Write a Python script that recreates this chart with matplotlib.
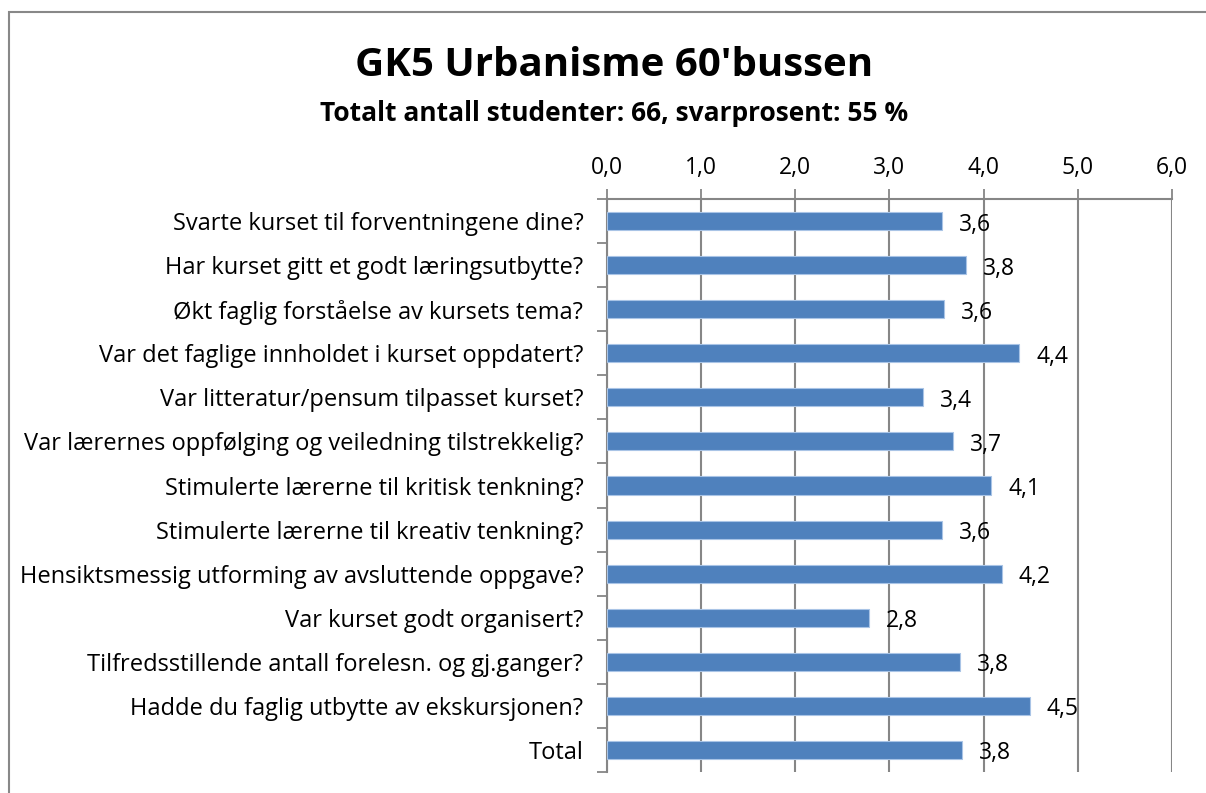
import numpy as np
import matplotlib.pyplot as plt
from matplotlib.patches import Rectangle
from matplotlib.ticker import FixedLocator

plt.rcParams['font.family'] = ['Open Sans', 'DejaVu Sans']

questions = [
    'Svarte kurset til forventningene dine?',
    'Har kurset gitt et godt læringsutbytte?',
    'Økt faglig forståelse av kursets tema?',
    'Var det faglige innholdet i kurset oppdatert?',
    'Var litteratur/pensum tilpasset kurset?',
    'Var lærernes oppfølging og veiledning tilstrekkelig?',
    'Stimulerte lærerne til kritisk tenkning?',
    'Stimulerte lærerne til kreativ tenkning?',
    'Hensiktsmessig utforming av avsluttende oppgave?',
    'Var kurset godt organisert?',
    'Tilfredsstillende antall forelesn. og gj.ganger?',
    'Hadde du faglig utbytte av ekskursjonen?',
    'Total',
]
scores = [3.56, 3.81, 3.58, 4.38, 3.36, 3.67, 4.08, 3.56, 4.19, 2.78, 3.75, 4.49, 3.77]
xticks = [0, 1, 2, 3, 4, 5, 6]

fig = plt.figure(figsize=(12.06, 7.93), dpi=100)
ax = fig.add_axes([0.5033, 0.0265, 0.4685, 0.7225])

y = np.arange(len(questions))
ax.barh(y, scores, height=0.41, color='#4f81bd', edgecolor='#a9c4e6', linewidth=0.8, zorder=3)

for yi, v in zip(y, scores):
    ax.text(v + 0.18, yi + 0.08, ('%.1f' % v).replace('.', ','), va='center', ha='left',
            fontsize=16.5, color='black', zorder=4)

ax.set_xlim(0, 6)
ax.set_ylim(len(questions) - 0.5, -0.5)
ax.xaxis.tick_top()
ax.set_xticks(xticks)
ax.set_xticklabels([('%.1f' % t).replace('.', ',') for t in xticks], fontsize=16.5)
ax.tick_params(axis='x', length=7, width=1.3, color='#868686', pad=7)
ax.grid(axis='x', color='#868686', linewidth=1.5, zorder=1)

ax.set_yticks(y)
ax.set_yticklabels(questions, fontsize=17)
ax.yaxis.set_minor_locator(FixedLocator(np.arange(-0.5, len(questions), 1)))
ax.tick_params(axis='y', which='major', length=0, pad=17)
ax.tick_params(axis='y', which='minor', length=7, width=1.3, color='#868686')

for s in ['right', 'bottom']:
    ax.spines[s].set_visible(False)
for s in ['top', 'left']:
    ax.spines[s].set_color('#868686')
    ax.spines[s].set_linewidth(1.5)

fig.text(0.509, 0.918, "GK5 Urbanisme 60'bussen", ha='center', va='center',
         fontsize=29, fontweight='bold')
fig.text(0.509, 0.857, 'Totalt antall studenter: 66, svarprosent: 55 %', ha='center',
         va='center', fontsize=19, fontweight='bold')

fig.patches.append(Rectangle((9 / 1206, -0.1), 1.2, 1.1 - 12 / 793, transform=fig.transFigure,
                             fill=False, edgecolor='#888888', linewidth=1.5))

fig.savefig('out.png', dpi=100)
